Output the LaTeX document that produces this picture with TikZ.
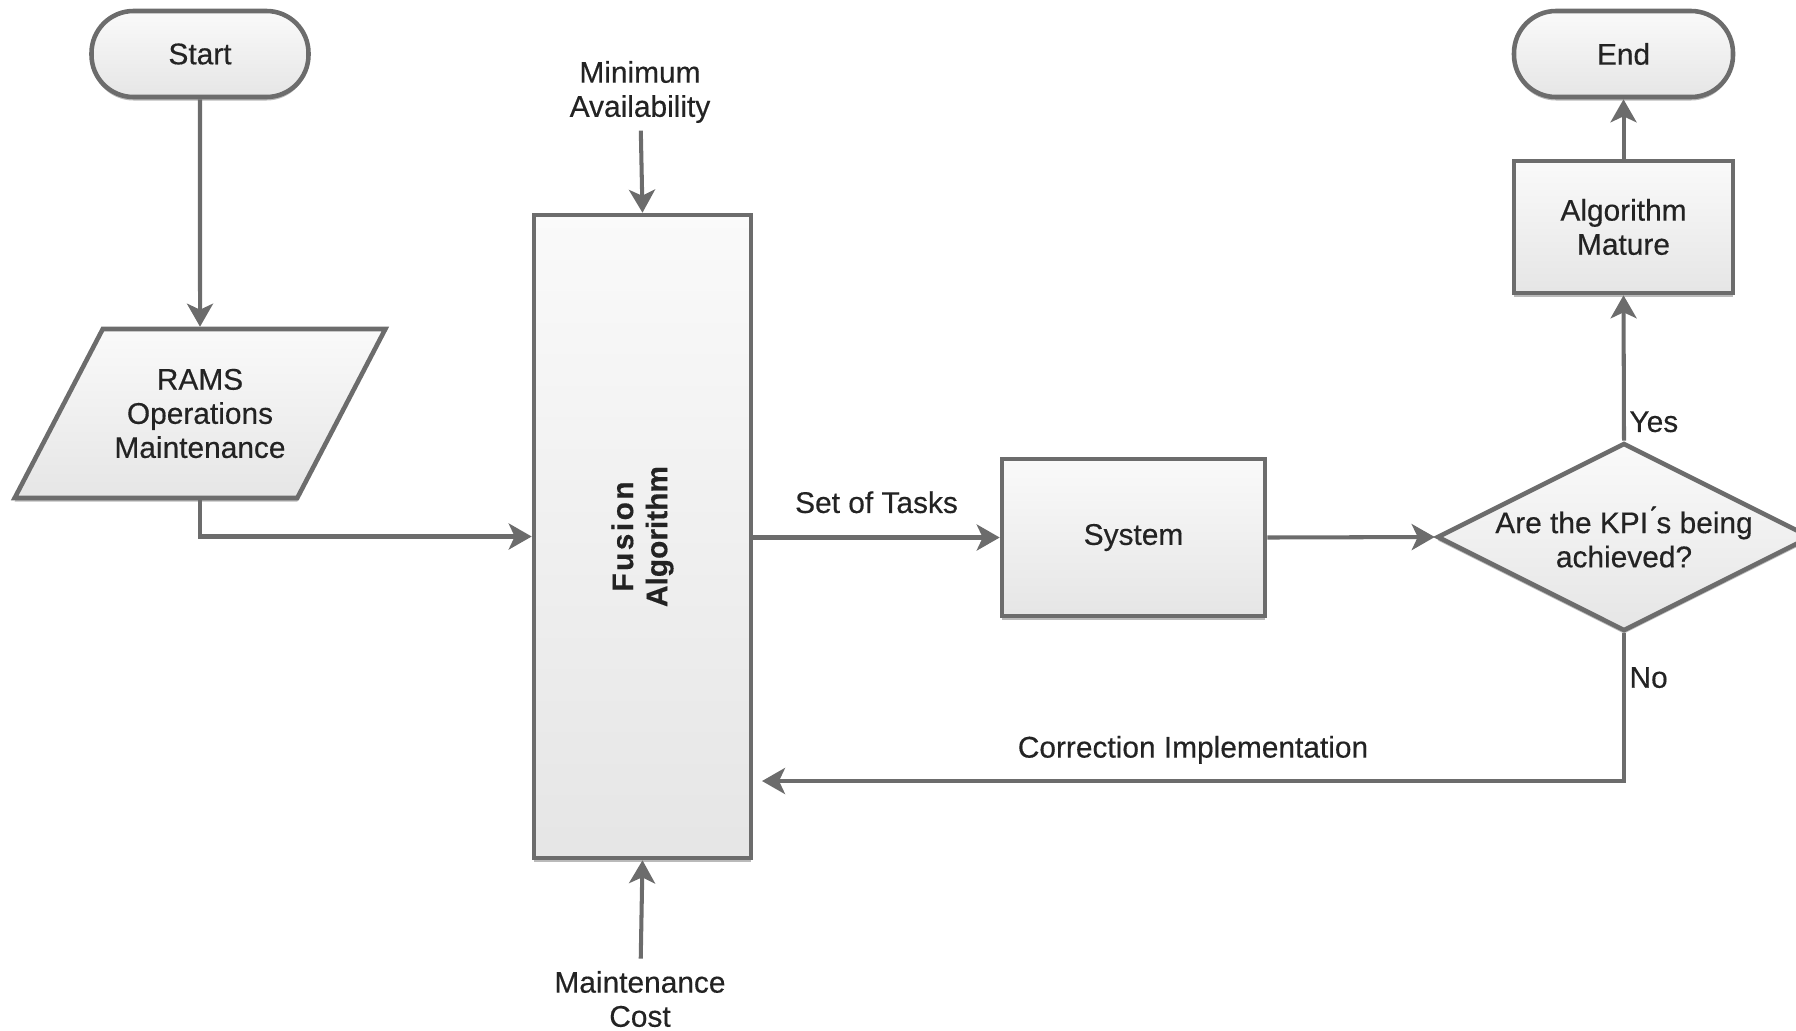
\documentclass[tikz,border=0pt]{standalone}
\usepackage{fontspec}
\setmainfont{Liberation Sans}[FakeBold=0.4]
\usepackage{xcolor}
\usepackage{tikz}
\usetikzlibrary{positioning}
\usetikzlibrary{arrows.meta}
\usetikzlibrary{shapes.geometric}
\usetikzlibrary{shadows}
\usetikzlibrary{calc}

\definecolor{linegray}{RGB}{108,108,108}
\definecolor{txtgray}{RGB}{35,35,35}

\begin{document}
\begin{tikzpicture}[
  font=\fontsize{8.5}{9.7}\selectfont,
  text=txtgray,
  boxbase/.style={
    draw=linegray,
    line width=1.3pt,
    top color=white!98!black,
    bottom color=white!90!black,
    drop shadow={shadow xshift=0pt, shadow yshift=-0.035cm, fill=black!45, opacity=0.6},
    align=center
  },
  term/.style={
    boxbase,
    rectangle,
    rounded corners=0.42cm,
    minimum width=2.17cm,
    minimum height=0.86cm
  },
  proc/.style={
    boxbase,
    rectangle
  },
  io/.style={
    boxbase,
    trapezium,
    trapezium left angle=52,
    trapezium right angle=128,
    trapezium stretches body=true,
    minimum width=3.58cm,
    minimum height=1.69cm
  },
  decision/.style={
    boxbase,
    diamond,
    minimum width=3.74cm,
    minimum height=1.88cm,
    inner sep=0pt
  },
  arr/.style={
    draw=linegray,
    line width=1.15pt,
    -{Stealth[length=2.3mm, width=2.6mm, inset=0.6mm]}
  },
  lbl/.style={inner sep=1pt}
]
\useasboundingbox (0,0) rectangle (17.96,-10.30);

% ===================== left column =====================
\node[term] (start) at (2.00, -0.54) {Start};
\node[io]   (rams)  at (2.00, -4.135) {RAMS\\Operations\\Maintenance};

% ===================== fusion block =====================
\node[proc, minimum width=2.17cm, minimum height=6.43cm] (fusion) at (6.425, -5.365) {};
\node[rotate=90, font=\fontsize{8.5}{9.7}\selectfont\bfseries, align=center]
  (fusiontxt) at (fusion.center) {F\kern0.7pt u\kern0.7pt s\kern0.7pt i\kern0.7pt o\kern0.7pt n\\Algorithm};

\node[align=center, inner sep=2pt] (minav) at (6.40, -0.92) {Minimum\\Availability};
\node[align=center] (mcost) at (6.40, -9.99) {Maintenance\\Cost};

% ===================== right part =====================
\node[proc, minimum width=2.63cm, minimum height=1.57cm] (system) at (11.335, -5.375) {System};
\node[decision, label={[align=center]center:Are the KPI\'{}s being\\achieved?}] (kpi) at (16.24, -5.37) {};
\node[proc, minimum width=2.19cm, minimum height=1.32cm] (mature) at (16.235, -2.27) {Algorithm\\Mature};
\node[term, minimum width=2.19cm] (end) at (16.235, -0.54) {End};

\coordinate (corr) at (7.62, -7.81);

% ===================== connectors =====================
\draw[arr] (start) -- (rams);
\draw[arr] (rams.south) |- (fusion.west);
\draw[arr] (minav) -- (fusion.north);
\draw[arr] (mcost) -- (fusion.south);
\draw[arr] (fusion.east |- system.west) -- node[above=3pt] {Set of Tasks} (system.west);
\draw[arr] (system.east) -- (kpi.west);
\draw[arr] (kpi.north) -- node[lbl, right, pos=0.13] {Yes} (mature.south);
\draw[arr] (mature) -- (end);
\draw[arr] (kpi.south) |- node[lbl, right, pos=0.15] {No}
  node[above=1pt, pos=0.75] {Correction Implementation} (corr);

\end{tikzpicture}
\end{document}
